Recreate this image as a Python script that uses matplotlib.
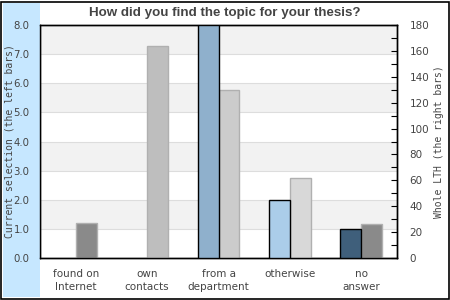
import matplotlib.pyplot as plt
from matplotlib.patches import Rectangle
from matplotlib.ticker import MultipleLocator

categories = ['found on\nInternet', 'own\ncontacts', 'from a\ndepartment', 'otherwise', 'no\nanswer']
current = [0, 0, 8, 2, 1]          # left axis
whole_lth = [27, 164, 130, 62, 26]  # right axis

left_colors = ['#8fb0cc', '#8fb0cc', '#8fb0cc', '#abcde9', '#3f5f7b']
right_colors = ['#8a8a8a', '#bebebe', '#cccccc', '#d8d8d8', '#8a8a8a']

txt = '#444444'
fig = plt.figure(figsize=(4.5, 3), dpi=100)

# blue strip on the left and outer frame
fig.patches.append(Rectangle((3/450, 3/300), 37/450, 294/300, transform=fig.transFigure,
                             facecolor='#c6e7ff', edgecolor='none', zorder=0))
fig.patches.append(Rectangle((1/450, 1/300), 448/450, 297/300, transform=fig.transFigure,
                             facecolor='none', edgecolor='black', linewidth=1.2, zorder=5))

ax = fig.add_axes([40/450, 42/300, 357/450, 233/300])
ax2 = ax.twinx()

ax.set_xlim(0, 5)
ax.set_ylim(0, 8)
ax2.set_ylim(0, 180)

# alternating bands and grid, drawn on the back axis
k = 180 / 8
for i in range(8):
    if i % 2 == 1:
        ax2.axhspan(i * k, (i + 1) * k, color='#f2f2f2', zorder=0, linewidth=0)
    ax2.axhline(i * k, color='#dddddd', linewidth=0.8, zorder=0.5)

w = 0.294
xs = [i + 0.5 for i in range(len(categories))]
for x, v, c in zip(xs, whole_lth, right_colors):
    ax2.bar(x + w / 2, v, width=w, color=c, edgecolor='#b0b0b0', linewidth=1, zorder=3)
for x, v, c in zip(xs, current, left_colors):
    if v > 0:
        ax.bar(x - w / 2, v, width=w, color=c, edgecolor='black', linewidth=1, zorder=3)

ax.set_xticks(xs)
ax.set_xticklabels(categories, fontsize=7.5, color=txt, linespacing=1.3)
ax.tick_params(axis='x', length=0, pad=8)
ax.set_yticks(range(9))
ax.set_yticklabels([f'{v:.1f}' for v in range(9)], fontsize=7.3, color=txt)
ax.tick_params(axis='y', length=0, pad=7.5)

ax2.yaxis.set_major_locator(MultipleLocator(20))
ax2.yaxis.set_minor_locator(MultipleLocator(10))
ax2.tick_params(axis='y', which='both', direction='in', length=4, width=0.8,
                labelsize=7.5, labelcolor=txt, pad=9)

for a in (ax, ax2):
    for s in a.spines.values():
        s.set_linewidth(1)
        s.set_color('black')

ax.set_ylabel('Current selection (the left bars)', family='DejaVu Sans Mono',
              fontsize=7, color=txt)
ax2.set_ylabel('Whole LTH (the right bars)', family='DejaVu Sans Mono',
               fontsize=7, color=txt)
ax.yaxis.set_label_coords(-25.5/357, 0.5)
ax2.yaxis.set_label_coords(1 + 37/357, 0.5)

fig.text(0.5, 287/300, 'How did you find the topic for your thesis?', ha='center', va='center',
         fontsize=9.6, fontweight='bold', family='Liberation Sans', color=txt)

ax.set_zorder(ax2.get_zorder() + 1)
ax.patch.set_visible(False)
ax2.patch.set_visible(True)

fig.savefig('out.png', dpi=100)
